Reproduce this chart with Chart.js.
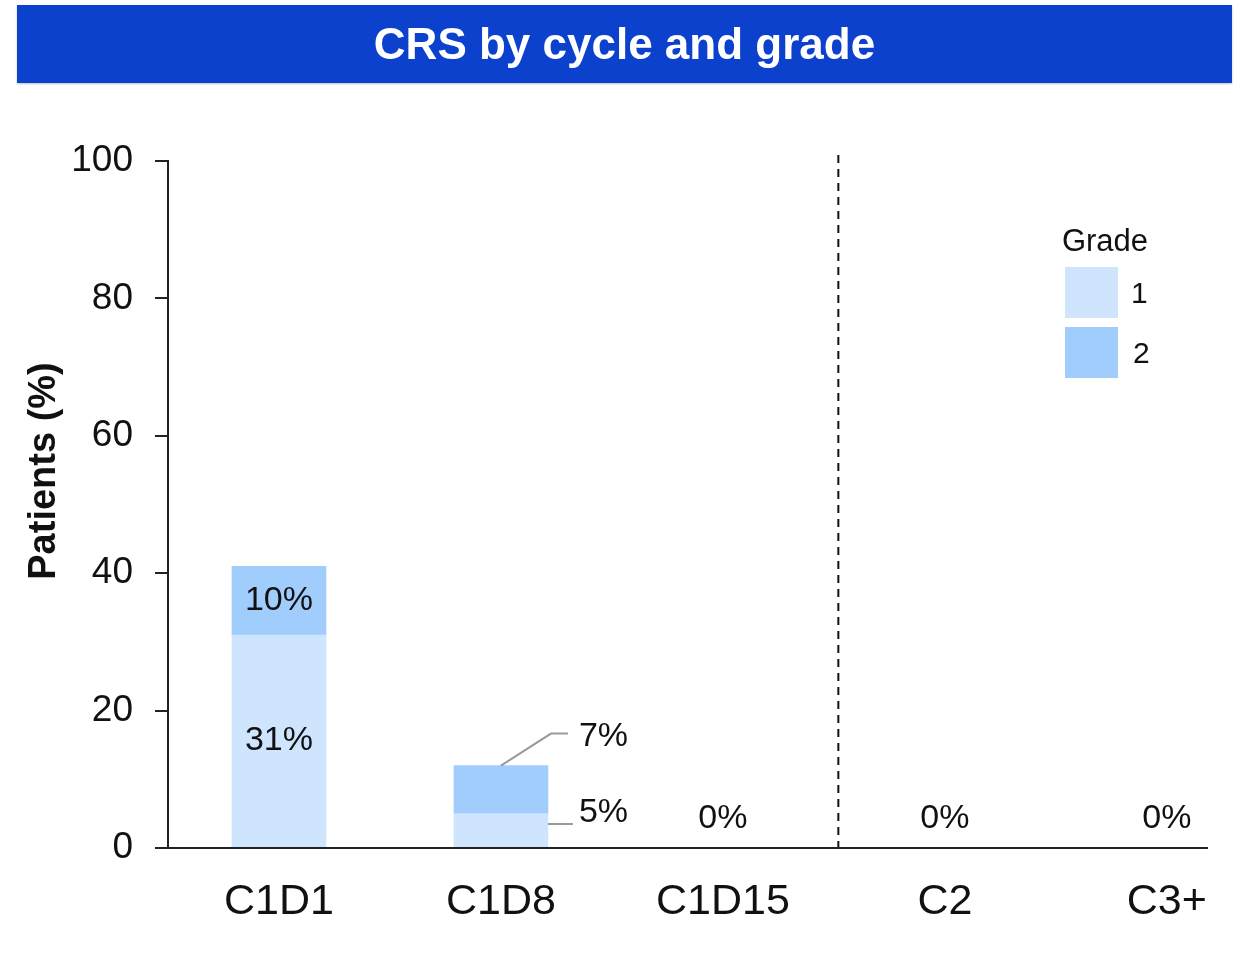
<!DOCTYPE html>
<html>
<head>
<meta charset="utf-8">
<title>CRS by cycle and grade</title>
<script src="https://cdn.jsdelivr.net/npm/chart.js@4.4.1/dist/chart.umd.min.js"></script>
<style>
  html, body { margin: 0; padding: 0; background: #ffffff; }
  #wrap { position: relative; width: 1236px; height: 959px; }
  #banner {
    position: absolute; left: 17px; top: 5px; width: 1215px; height: 78px;
    background: #0c41cd; color: #ffffff;
    font: bold 44px "Liberation Sans", Arial, sans-serif;
    display: flex; align-items: center; justify-content: center;
    box-shadow: 0 1px 2px rgba(0,0,0,0.25);
  }
  canvas { position: absolute; left: 0; top: 0; }
</style>
</head>
<body>
<div id="wrap">
  <canvas id="chart" width="1236" height="959"></canvas>
  <div id="banner">CRS by cycle and grade</div>
</div>
<script>
// Cycle / day of dosing
const categories = ['C1D1', 'C1D8', 'C1D15', 'C2', 'C3+'];
// Share of patients with CRS, by grade (%)
const grade1 = [31, 5, 0, 0, 0];
const grade2 = [10, 7, 0, 0, 0];
const gradeLabels = ['1', '2'];
const yTicks = [0, 20, 40, 60, 80, 100];

const FONT = '"Liberation Sans", Arial, sans-serif';
const TEXT = '#111111';
const COLORS = ['#cfe5fd', '#a0cdfb'];
const CYCLE_DIVIDER = 2.52; // between cycle 1 and later cycles

const toPoints = arr => arr.map((v, i) => ({ x: i, y: v }));

// Value labels, leader lines, dashed divider, legend and axis title
const annotate = {
  id: 'annotate',
  afterDatasetsDraw(chart) {
    const { ctx, chartArea, scales: { x, y } } = chart;
    ctx.save();

    // dashed divider between cycle 1 and later cycles
    const dx = x.getPixelForValue(CYCLE_DIVIDER);
    ctx.strokeStyle = '#111';
    ctx.lineWidth = 2;
    ctx.setLineDash([8, 6]);
    ctx.beginPath();
    ctx.moveTo(dx, chartArea.top - 6);
    ctx.lineTo(dx, chartArea.bottom);
    ctx.stroke();
    ctx.setLineDash([]);

    ctx.font = '34px ' + FONT;
    ctx.fillStyle = TEXT;
    ctx.textBaseline = 'middle';
    const base = y.getPixelForValue(0);

    categories.forEach((cat, i) => {
      const total = grade1[i] + grade2[i];
      if (total === 0) {
        ctx.textAlign = 'center';
        ctx.fillText('0%', x.getPixelForValue(i), base - 29);
        return;
      }
      chart.data.datasets.forEach((ds, d) => {
        const el = chart.getDatasetMeta(d).data[i];
        const v = ds.data[i].y;
        if (!el || v <= 0) return;
        const h = Math.abs(el.base - el.y);
        const label = v + '%';
        if (h >= 55) {
          ctx.textAlign = 'center';
          ctx.fillText(label, el.x, (el.y + el.base) / 2);
        } else {
          const right = el.x + el.width / 2;
          ctx.strokeStyle = '#9a9a9a';
          ctx.lineWidth = 2;
          ctx.textAlign = 'left';
          if (d === 0) {
            const ly = el.base - 23;
            ctx.beginPath();
            ctx.moveTo(right, ly);
            ctx.lineTo(right + 25, ly);
            ctx.stroke();
            ctx.fillText(label, right + 31, ly - 11);
          } else {
            const ly = el.y - 32;
            ctx.beginPath();
            ctx.moveTo(el.x, el.y);
            ctx.lineTo(el.x + 50, ly);
            ctx.lineTo(el.x + 67, ly);
            ctx.stroke();
            ctx.fillText(label, el.x + 78, ly + 3);
          }
        }
      });
    });

    // legend
    ctx.textAlign = 'center';
    ctx.font = '31px ' + FONT;
    ctx.fillText('Grade', 1105, 242);
    ctx.font = '30px ' + FONT;
    chart.data.datasets.forEach((ds, d) => {
      const top = 267 + d * 60;
      ctx.fillStyle = ds.backgroundColor;
      ctx.fillRect(1065, top, 53, 51);
      ctx.fillStyle = TEXT;
      ctx.textAlign = 'left';
      ctx.fillText(ds.label, 1131 + d * 2, top + 28);
    });

    // y-axis title
    ctx.translate(45, 471);
    ctx.rotate(-Math.PI / 2);
    ctx.textAlign = 'center';
    ctx.font = 'bold 38px ' + FONT;
    ctx.fillText('Patients (%)', 0, 0);
    ctx.restore();
  }
};

new Chart(document.getElementById('chart'), {
  type: 'bar',
  data: {
    datasets: [
      { label: gradeLabels[0], data: toPoints(grade1), backgroundColor: COLORS[0], barThickness: 94, borderWidth: 0 },
      { label: gradeLabels[1], data: toPoints(grade2), backgroundColor: COLORS[1], barThickness: 94, borderWidth: 0 }
    ]
  },
  options: {
    responsive: false,
    animation: false,
    layout: { padding: { top: 161, right: 28, bottom: 0, left: 0 } },
    plugins: { legend: { display: false }, tooltip: { enabled: false }, title: { display: false } },
    scales: {
      x: {
        type: 'linear',
        stacked: true,
        offset: false,
        min: -0.5,
        max: 4.185,
        afterBuildTicks: s => { s.ticks = categories.map((c, i) => ({ value: i })); },
        afterFit: s => { s.height = 111; },
        ticks: {
          callback: v => categories[v],
          font: { family: FONT, size: 43 },
          color: TEXT,
          padding: 28,
          maxRotation: 0,
          autoSkip: false
        },
        grid: { display: false, drawTicks: false, offset: false },
        border: { display: true, color: '#222', width: 2, z: 1 }
      },
      y: {
        stacked: true,
        min: 0,
        max: 100,
        afterBuildTicks: s => { s.ticks = yTicks.map(v => ({ value: v })); },
        afterFit: s => { s.width = 168; },
        ticks: {
          font: { family: FONT, size: 37 },
          color: TEXT,
          padding: 22
        },
        grid: { drawOnChartArea: false, drawTicks: true, tickLength: 13, color: '#222', lineWidth: 2 },
        border: { display: true, color: '#222', width: 2, z: 1 }
      }
    }
  },
  plugins: [annotate]
});
</script>
</body>
</html>
